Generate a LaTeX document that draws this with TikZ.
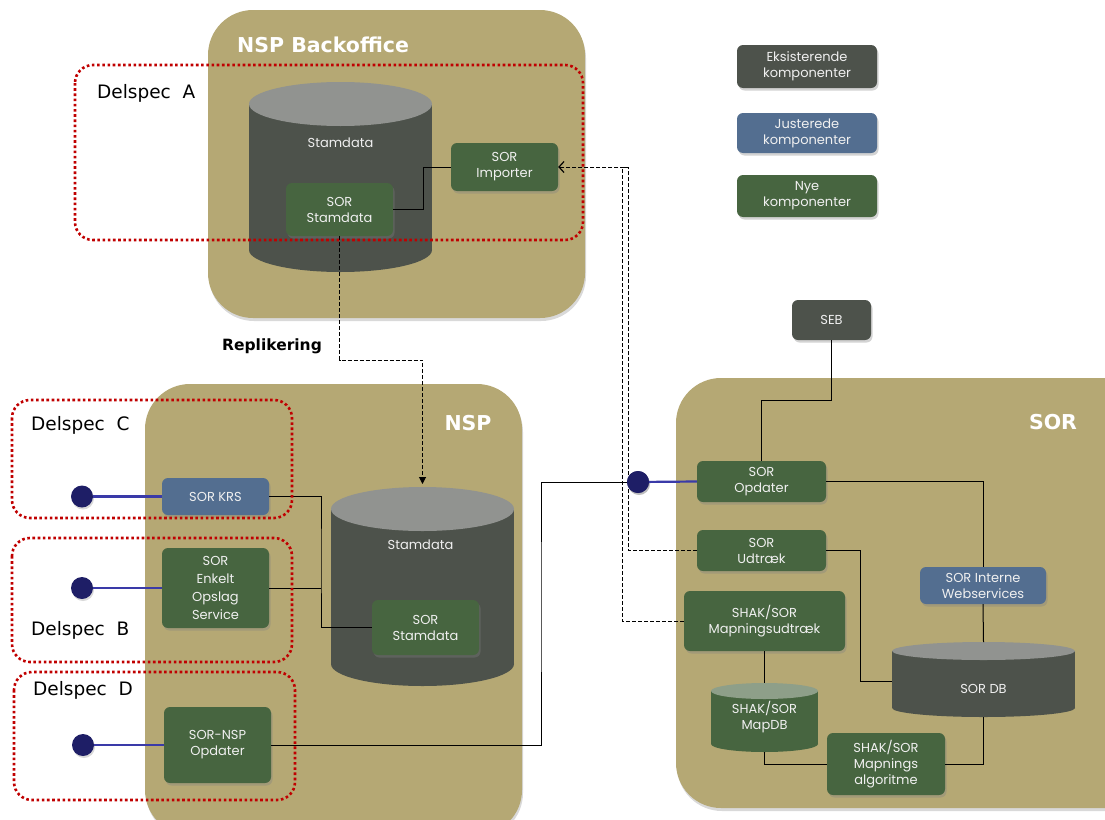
\documentclass[tikz,border=0pt]{standalone}
\usepackage{fontspec}
\setmainfont{Poppins}
\newfontfamily\dv{DejaVu Sans}
\usetikzlibrary{arrows.meta,shadows}
\definecolor{tanc}{HTML}{B5A874}
\definecolor{exist}{HTML}{4D524B}
\definecolor{adj}{HTML}{536E90}
\definecolor{newc}{HTML}{476540}
\definecolor{cyltop}{HTML}{919390}
\definecolor{mapdbtop}{HTML}{8E9F89}
\definecolor{dred}{HTML}{C00000}
\definecolor{navy}{HTML}{1E1E66}
\definecolor{lblue}{HTML}{3A3AA8}
\tikzset{
  region/.style={fill=tanc, rounded corners=45pt, drop shadow={shadow xshift=1pt, shadow yshift=-3pt, opacity=0.3}},
  comp/.style={rounded corners=6pt, text=white!94!black, font=\fontsize{13}{16}\selectfont, align=center, inner sep=0pt, drop shadow={shadow xshift=1.5pt, shadow yshift=-2.5pt, opacity=0.35}},
  cyltext/.style={text=white!94!black, font=\fontsize{13}{16}\selectfont, align=center, inner sep=0pt},
  delspec/.style={draw=dred, line width=2.6pt, dash pattern=on 2.6pt off 2.6pt, rounded corners=18pt},
  dlabel/.style={font=\dv\fontsize{18.5}{20}\selectfont, anchor=west, inner sep=0pt},
  rtitle/.style={font=\dv\bfseries\fontsize{20.5}{22}\selectfont, text=white, inner sep=0pt},
  conn/.style={draw=black, line width=1pt},
  dconn/.style={draw=black, line width=1pt, dash pattern=on 4pt off 2pt},
  bline/.style={draw=lblue, line width=2.2pt},
  lolli/.style={circle, fill=navy, minimum size=22pt, inner sep=0pt, drop shadow={shadow xshift=1pt, shadow yshift=-2pt, opacity=0.3}},
}
\newcommand{\mycyl}[7]{%
  \fill[#7] (#1,#3) rectangle (#2,#4);
  \fill[#7] ({(#1+#2)/2},#4) ellipse [x radius={(#2-#1)/2*1pt}, y radius=#5pt];
  \fill[#6] ({(#1+#2)/2},#3) ellipse [x radius={(#2-#1)/2*1pt}, y radius=#5pt];
}
\begin{document}
\begin{tikzpicture}[x=1pt, y=-1pt]
\useasboundingbox (0,0) rectangle (1105,819);
% regions
\fill[region] (208,10) rectangle (585,318);
\fill[region] (145,384) rectangle (522,835);
\fill[region] (676,378) rectangle (1150,808);
\node[rtitle, anchor=west] (t1) at (237,45) {NSP Backoffice};
\node[rtitle] (t2) at (468,423) {NSP};
\node[rtitle] (t3) at (1053,422) {SOR};
% cylinders
\mycyl{249}{432}{104}{250}{22}{cyltop}{exist}
\mycyl{331}{514}{509}{664}{22}{cyltop}{exist}
\mycyl{892}{1075}{651}{708}{9}{cyltop}{exist}
\mycyl{711}{818}{691}{744}{8}{mapdbtop}{newc}
\node[cyltext] (bocyltxt) at (340.5,143) {Stamdata};
\node[cyltext] (nspcyltxt) at (420.5,545) {Stamdata};
\node[cyltext] (sordbtxt) at (983.5,689) {SOR DB};
\node[cyltext] (mapdbtxt) at (764.5,717) {SHAK/SOR\\MapDB};
\coordinate (nspcyltop) at (422.5,484);
\coordinate (sordbtop) at (983.5,642);
\coordinate (sordbbot) at (983.5,717);
\coordinate (sordbleft) at (892,681);
\coordinate (mapdbtop) at (764.5,683);
\coordinate (mapdbbot) at (764.5,752);
% components
\node[comp, fill=newc, minimum width=107pt, minimum height=53pt] (bostam) at (339.5,209.5) {SOR\\Stamdata};
\node[comp, fill=newc, minimum width=107pt, minimum height=48pt] (importer) at (504.5,167) {SOR\\Importer};
\node[comp, fill=adj, minimum width=107pt, minimum height=37pt] (krs) at (215.5,496.5) {SOR KRS};
\node[comp, fill=newc, minimum width=107pt, minimum height=80pt, font=\fontsize{13}{18}\selectfont] (enkelt) at (215.5,588) {SOR\\Enkelt\\Opslag\\Service};
\node[comp, fill=newc, minimum width=107pt, minimum height=76pt] (nspopd) at (217.5,745) {SOR-NSP\\Opdater};
\node[comp, fill=newc, minimum width=107pt, minimum height=55pt] (nspstam) at (425.5,627.5) {SOR\\Stamdata};
\node[comp, fill=exist, minimum width=140pt, minimum height=43pt] (leg1) at (807,66.5) {Eksisterende\\komponenter};
\node[comp, fill=adj, minimum width=140pt, minimum height=40pt] (leg2) at (807,133) {Justerede\\komponenter};
\node[comp, fill=newc, minimum width=140pt, minimum height=42pt] (leg3) at (807,196) {Nye\\komponenter};
\node[comp, fill=exist, minimum width=79pt, minimum height=40pt] (seb) at (831.5,320) {SEB};
\node[comp, fill=newc, minimum width=129pt, minimum height=41pt] (soropd) at (761.5,481.5) {SOR\\Opdater};
\node[comp, fill=newc, minimum width=129pt, minimum height=41pt] (udtraek) at (761.5,550.5) {SOR\\Udtræk};
\node[comp, fill=newc, minimum width=161pt, minimum height=60pt] (mapudt) at (764.5,621) {SHAK/SOR\\Mapningsudtræk};
\node[comp, fill=adj, minimum width=126pt, minimum height=37pt] (interne) at (983,585.5) {SOR Interne\\Webservices};
\node[comp, fill=newc, minimum width=118pt, minimum height=62pt] (algo) at (886,764) {SHAK/SOR\\Mapnings\\algoritme};
% connectors
\draw[conn] (bostam.east) -- ++(30,0) |- (importer.west);
\coordinate (j1) at (628,167);
\coordinate (j2) at (622,167);
\draw[dconn, -{Straight Barb[length=5pt,width=11pt,line width=1.2pt]}] (udtraek.west) -| (j1) -- (importer.east);
\draw[dconn] (mapudt.west) -| (j2) -- (j1);
\coordinate (rep) at (422.5,360);
\draw[dconn, -{Triangle[length=7pt,width=7pt]}] (bostam.south) |- (rep) -- (nspcyltop);
\node[font=\dv\bfseries\fontsize{15.5}{17}\selectfont, inner sep=0pt] (repl) at (272,346) {Replikering};
\coordinate (k1) at (321,560);
\draw[conn] (krs.east) -| (k1) |- (nspstam.west);
\draw[conn] (enkelt.east) -- (enkelt.east -| k1);
\node[lolli] (dot4) at (638,482) {};
\coordinate (k2) at (541,600);
\draw[conn] (nspopd.east) -| (k2) |- (dot4.center);
\node[lolli] (dot4b) at (638,482) {};
\draw[bline] (dot4b) -- (soropd.west);
\draw[conn] (seb.south) -- ++(0,60) -| (soropd.north);
\draw[conn] (soropd.east) -| (interne.north);
\draw[conn] (interne.south) -- (sordbtop);
\draw[conn] (udtraek.east) -- ++(34,0) |- (sordbleft);
\draw[conn] (mapudt.south) -- (mapdbtop);
\draw[conn] (mapdbbot) |- (algo.west);
\draw[conn] (algo.east) -| (sordbbot);
% lollipops
\node[lolli] (dot1) at (82,496.5) {};
\node[lolli] (dot2) at (82,588) {};
\node[lolli] (dot3) at (83,745) {};
\draw[bline] (dot1) -- (krs.west);
\draw[bline] (dot2) -- (enkelt.west);
\draw[bline] (dot3) -- (nspopd.west);
% delspec boxes
\draw[delspec] (75,65) rectangle (583,240);
\draw[delspec] (12,400) rectangle (292,518);
\draw[delspec] (12,538) rectangle (292,662);
\draw[delspec] (14,672) rectangle (295,800);
\node[dlabel] (da) at (97,93) {Delspec\ \ A};
\node[dlabel] (dc) at (31,425) {Delspec\ \ C};
\node[dlabel] (db) at (31,630) {Delspec\ \ B};
\node[dlabel] (dd) at (33,690) {Delspec\ \ D};
\end{tikzpicture}
\end{document}
